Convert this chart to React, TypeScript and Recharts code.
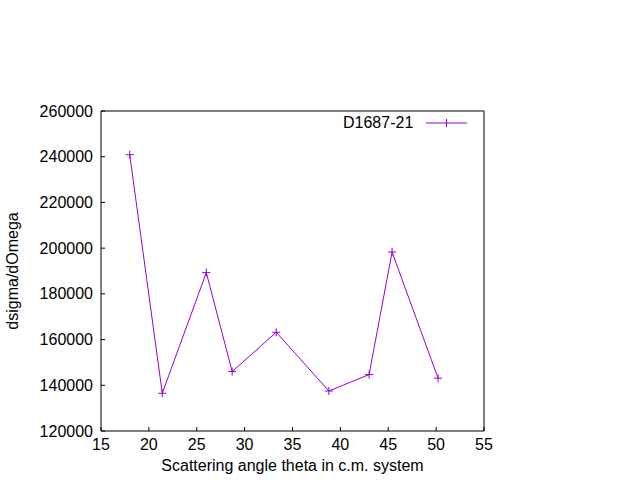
import { Legend, Line, LineChart, XAxis, YAxis } from "recharts";

const thetaValues = [18.0, 21.4, 26.0, 28.7, 33.3, 38.8, 43.0, 45.4, 50.2];
const dsigmaValues = [240900, 136500, 189300, 146000, 163200, 137500, 144700, 198300, 143100];
const xTicks = [15, 20, 25, 30, 35, 40, 45, 50, 55];
const yTicks = [120000, 140000, 160000, 180000, 200000, 220000, 240000, 260000];
const seriesName = "D1687-21";

const data = thetaValues.map((theta, i) => ({ theta, dsigma: dsigmaValues[i] }));

const FONT = "'Liberation Sans', Arial, sans-serif";
const FONT_SIZE = 16;
const PURPLE = "#9400d3";
const TICK = 4;

const BottomTick = ({ x, y, payload }: any) => (
  <g>
    <line x1={x} y1={y} x2={x} y2={y - TICK} stroke="#000" />
    <text x={x} y={y + 19} textAnchor="middle" fontFamily={FONT} fontSize={FONT_SIZE} fill="#000">
      {payload.value}
    </text>
  </g>
);

const TopTick = ({ x, y }: any) => <line x1={x} y1={y} x2={x} y2={y + TICK} stroke="#000" />;

const LeftTick = ({ x, y, payload }: any) => (
  <g>
    <line x1={x} y1={y} x2={x + TICK} y2={y} stroke="#000" />
    <text x={x - 8} y={y} dy="0.35em" textAnchor="end" fontFamily={FONT} fontSize={FONT_SIZE} fill="#000">
      {payload.value}
    </text>
  </g>
);

const RightTick = ({ x, y }: any) => <line x1={x} y1={y} x2={x - TICK} y2={y} stroke="#000" />;

const PlusDot = (props: any) => {
  const { cx, cy, index } = props;
  return (
    <path
      key={`dot-${index}`}
      d={`M${cx - 4},${cy}h8M${cx},${cy - 4}v8`}
      stroke={PURPLE}
      strokeWidth={1}
      fill="none"
    />
  );
};

const LegendBox = () => (
  <svg width={130} height={22} style={{ display: "block" }}>
    <text x={0} y={15} fontFamily={FONT} fontSize={FONT_SIZE} fill="#000">
      {seriesName}
    </text>
    <line x1={83} y1={10} x2={124} y2={10} stroke={PURPLE} />
    <path d="M103.5,6v8" stroke={PURPLE} />
  </svg>
);

export default function App() {
  return (
    <div style={{ position: "absolute", left: 0, top: 0, width: 640, height: 480, background: "#fff" }}>
      <LineChart
        width={640}
        height={480}
        data={data}
        margin={{ top: 110, right: 155, bottom: 0, left: 41 }}
      >
        <XAxis
          dataKey="theta"
          type="number"
          domain={[15, 55]}
          ticks={xTicks}
          height={49}
          tickSize={0}
          tickMargin={0}
          tickLine={false}
          axisLine={{ stroke: "#000" }}
          tick={<BottomTick />}
          interval={0}
          label={({ viewBox }: any) => (
            <text
              x={viewBox.x + viewBox.width / 2}
              y={471}
              textAnchor="middle"
              fontFamily={FONT}
              fontSize={FONT_SIZE}
              fill="#000"
            >
              Scattering angle theta in c.m. system
            </text>
          )}
        />
        <XAxis
          xAxisId="top"
          orientation="top"
          type="number"
          domain={[15, 55]}
          ticks={xTicks}
          height={1}
          tickSize={0}
          tickMargin={0}
          tickLine={false}
          axisLine={{ stroke: "#000" }}
          tick={<TopTick />}
          interval={0}
        />
        <YAxis
          type="number"
          domain={[120000, 260000]}
          ticks={yTicks}
          width={60}
          tickSize={0}
          tickMargin={0}
          tickLine={false}
          axisLine={{ stroke: "#000" }}
          tick={<LeftTick />}
          interval={0}
          label={({ viewBox }: any) => {
            const cy = viewBox.y + viewBox.height / 2;
            return (
              <text
                x={18}
                y={cy}
                transform={`rotate(-90 18 ${cy})`}
                textAnchor="middle"
                fontFamily={FONT}
                fontSize={FONT_SIZE}
                fill="#000"
              >
                dsigma/dOmega
              </text>
            );
          }}
        />
        <YAxis
          yAxisId="right"
          orientation="right"
          type="number"
          domain={[120000, 260000]}
          ticks={yTicks}
          width={1}
          tickSize={0}
          tickMargin={0}
          tickLine={false}
          axisLine={{ stroke: "#000" }}
          tick={<RightTick />}
          interval={0}
        />
        <Legend
          layout="horizontal"
          verticalAlign="middle"
          align="center"
          content={<LegendBox />}
          wrapperStyle={{ top: 113, left: 343, width: "auto" }}
        />
        <Line
          name={seriesName}
          dataKey="dsigma"
          stroke={PURPLE}
          strokeWidth={1}
          dot={PlusDot}
          activeDot={false}
          isAnimationActive={false}
        />
      </LineChart>
    </div>
  );
}
